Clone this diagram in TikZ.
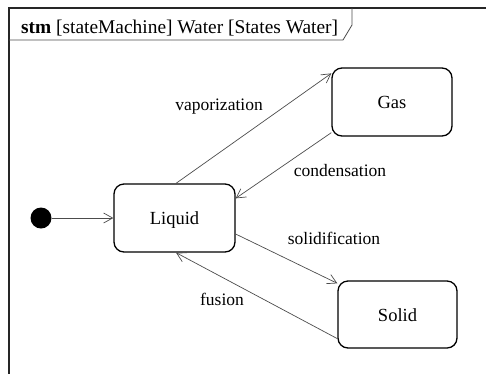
\documentclass[tikz,border=0pt]{standalone}
\usepackage{fontspec}
\setmainfont{Liberation Serif}
\usetikzlibrary{arrows.meta}
\begin{document}
\begin{tikzpicture}[x=1bp,y=-1bp,
  state/.style={draw=black, line width=1.3bp, rounded corners=10bp,
    minimum width=#1, minimum height=67bp, inner sep=0pt,
    text height=13bp, text depth=0pt, font=\fontsize{18.5bp}{20bp}\selectfont},
  state/.default=120bp,
  trans/.style={draw=black!70, line width=0.7bp,
    -{Straight Barb[length=9bp,width=10bp,line width=0.7bp]}},
  tlabel/.style={anchor=base, inner sep=0pt, font=\fontsize{17.5bp}{19bp}\selectfont},
  framebar/.style={line width=2bp, draw=black!85},
  tabline/.style={line width=0.8bp, draw=black!70}]
  \useasboundingbox (0,0) rectangle (486,373);

  % diagram frame and its name tab
  \draw[framebar] (9,380) -- (9,8) -- (490,8);
  \draw[tabline] (9,40) -- (343,40) -- (352,25) -- (352,8);
  \node[anchor=base west, inner sep=0pt, font=\fontsize{19.4bp}{21bp}\selectfont]
    (title) at (21,33) {\textbf{stm} [stateMachine] Water [States Water]};

  % states
  \node[state=121bp, minimum height=68bp] (Liquid) at (174.5,218) {Liquid};
  \node[state=120bp, minimum height=68bp] (Gas) at (392,102) {Gas};
  \node[state=119bp] (Solid) at (397.5,314.5) {Solid};
  \node[circle, fill=black, minimum size=21bp, inner sep=0pt] (init) at (41,218) {};

  % transitions
  \draw[trans] (init) -- (Liquid.west);
  \draw[trans] ([xshift=1.5bp]Liquid.north) -- ([yshift=-6bp]Gas.north west);
  \draw[trans] ([yshift=4bp]Gas.south west) -- ([yshift=-15bp]Liquid.north east);
  \draw[trans] ([yshift=-16bp]Liquid.east) -- ([yshift=-3bp]Solid.north west);
  \draw[trans] ([yshift=10bp]Solid.south west) -- ([xshift=1.5bp]Liquid.south);

  % transition labels
  \node[tlabel] (lvap) at (219,110) {vaporization};
  \node[tlabel] (lcon) at (340,176) {condensation};
  \node[tlabel] (lsol) at (334,244) {solidification};
  \node[tlabel] (lfus) at (222,305) {fusion};
\end{tikzpicture}
\end{document}
